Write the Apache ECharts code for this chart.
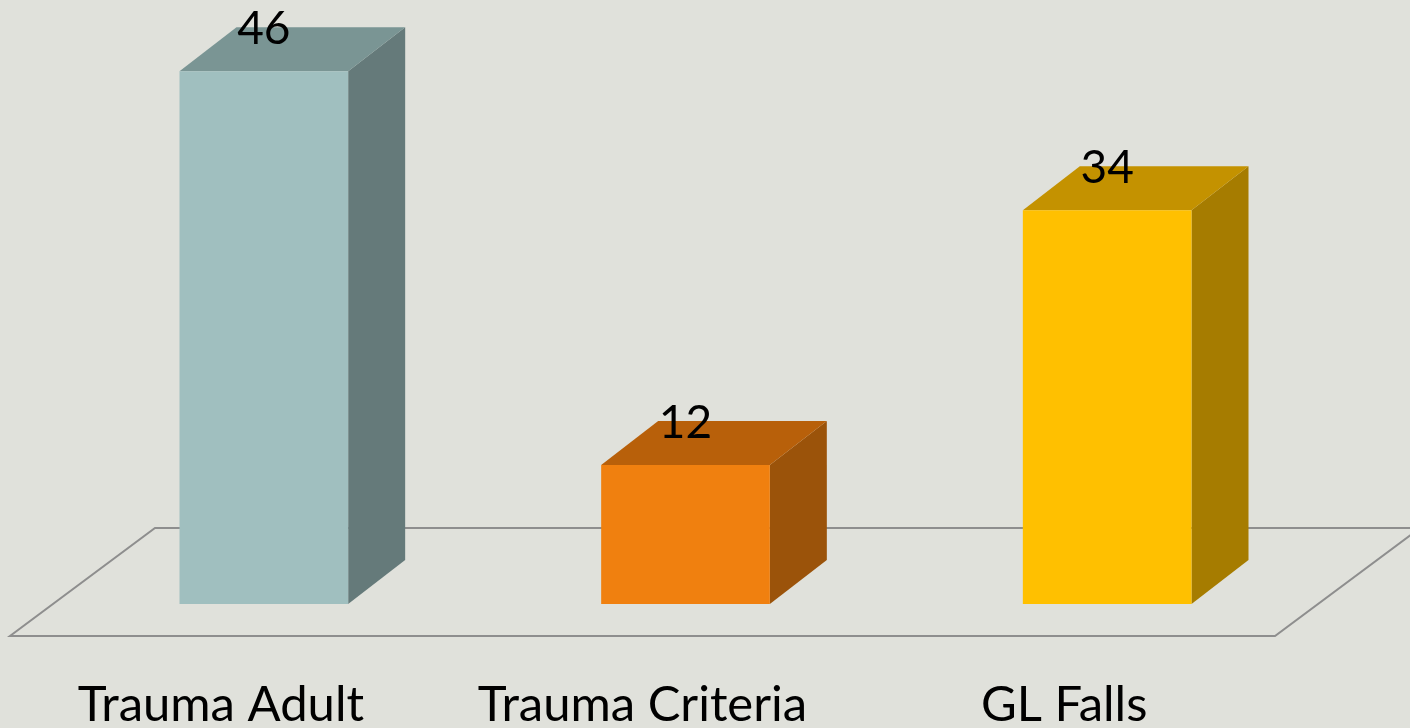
<!DOCTYPE html>
<html>
<head>
<meta charset="utf-8">
<script src="https://cdn.jsdelivr.net/npm/echarts@6/dist/echarts.min.js"></script>
<style>
  html, body { margin: 0; padding: 0; background: #e0e1db; }
  #chart { width: 1410px; height: 728px; }
</style>
</head>
<body>
<div id="chart"></div>
<script>
const categories = ['Trauma Adult', 'Trauma Criteria', 'GL Falls'];
const values = [46, 12, 34];
// front / top / side shades per bar
const frontColors = ['#a0bfbf', '#f0800f', '#ffc000'];
const topColors = ['#7a9594', '#b8600a', '#c49200'];
const sideColors = ['#657a7a', '#9b530a', '#a67c00'];

const DX = 57; // depth offset of bar box
const DY = -44;

const chart = echarts.init(document.getElementById('chart'));

function renderFloor(params, api) {
  const cs = params.coordSys;
  const base = api.coord([0, 0])[1];
  const x0 = cs.x;
  const x1 = cs.x + cs.width;
  return {
    type: 'polygon',
    shape: {
      points: [
        [x0 - 43, base + 32],
        [x1 - 43, base + 32],
        [x1 + 102, base - 76],
        [x0 + 102, base - 76]
      ]
    },
    style: { fill: 'none', stroke: '#8e8e8e', lineWidth: 2 },
    silent: true
  };
}

function renderBar(params, api) {
  const idx = api.value(0);
  const top = api.coord([idx, api.value(1)]);
  const bottom = api.coord([idx, 0]);
  const w = api.size([1, 0])[0] * 0.4;
  const xl = top[0] - w / 2;
  const xr = top[0] + w / 2;
  const yt = top[1];
  const yb = bottom[1];
  const i = params.dataIndex;
  return {
    type: 'group',
    children: [
      {
        type: 'polygon',
        shape: { points: [[xr, yt], [xr + DX, yt + DY], [xr + DX, yb + DY], [xr, yb]] },
        style: { fill: sideColors[i] }
      },
      {
        type: 'polygon',
        shape: { points: [[xl, yt], [xl + DX, yt + DY], [xr + DX, yt + DY], [xr, yt]] },
        style: { fill: topColors[i] }
      },
      {
        type: 'rect',
        shape: { x: xl, y: yt, width: w, height: yb - yt },
        style: { fill: frontColors[i] }
      },
      {
        type: 'text',
        x: top[0],
        y: yt + DY + 2,
        style: {
          text: String(api.value(1)),
          fill: '#000',
          font: '46px Lato',
          align: 'center',
          verticalAlign: 'middle'
        }
      }
    ]
  };
}

chart.setOption({
  animation: false,
  backgroundColor: '#e0e1db',
  grid: { left: 53, right: 92, top: 25, bottom: 124, outerBoundsMode: 'none' },
  xAxis: {
    type: 'category',
    data: categories,
    axisLine: { show: false },
    axisTick: { show: false },
    splitLine: { show: false },
    axisLabel: {
      interval: 0,
      hideOverlap: false,
      color: '#000',
      fontFamily: 'Lato',
      fontSize: 49,
      lineHeight: 49,
      margin: 77,
      padding: [0, 86, 0, 0]
    }
  },
  yAxis: {
    type: 'value',
    min: 0,
    max: 50,
    show: false
  },
  series: [
    {
      type: 'custom',
      renderItem: renderFloor,
      data: [[0, 0]],
      z: 1,
      silent: true
    },
    {
      type: 'custom',
      renderItem: renderBar,
      data: values.map((v, i) => [i, v]),
      z: 2
    }
  ]
});
</script>
</body>
</html>
